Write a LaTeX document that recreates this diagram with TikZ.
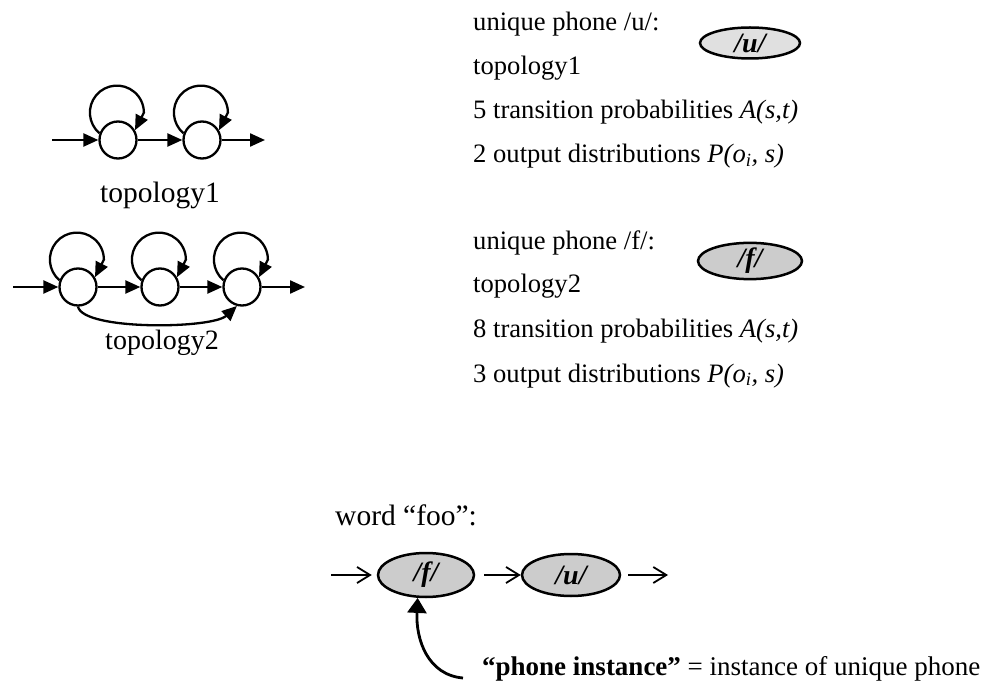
\documentclass[tikz,border=0pt]{standalone}
\usepackage{fontspec}
\setmainfont{Liberation Serif}
\usetikzlibrary{arrows.meta,shapes.geometric}
\begin{document}
\begin{tikzpicture}[x=1pt,y=1pt,
  state/.style={circle,draw,line width=2.3pt,minimum size=37pt,inner sep=0pt},
  arr/.style={line width=2.3pt,-{Triangle[length=15pt,width=13pt]}},
  thinarr/.style={line width=1.8pt,-{Straight Barb[length=13pt,width=16pt,line width=1.8pt]}},
  phone/.style={ellipse,draw,line width=2.5pt,inner sep=0pt,fill=black!20,
    font=\fontsize{28}{28}\selectfont\bfseries\itshape},
  txt/.style={anchor=base west,inner sep=0pt,font=\fontsize{26.6}{30}\selectfont},
  lbl/.style={anchor=base,inner sep=0pt},
]
\useasboundingbox (0,0) rectangle (985,697);

% ---- topology 1: two emitting states ----
\node[state] (c11) at (118,557) {};
\node[state] (c12) at (202,557) {};
\coordinate (t1in) at (52,557);
\coordinate (t1out) at (265,557);
\draw[arr] (t1in) -- (c11.west);
\draw[arr] (c11.east) -- (c12.west);
\draw[arr] (c12.east) -- (t1out);
\draw[arr] (c11.160) arc[start angle=230,end angle=0,radius=27] -- (c11.30);
\draw[arr] (c12.160) arc[start angle=230,end angle=0,radius=27] -- (c12.30);
\node[lbl,font=\fontsize{29.5}{30}\selectfont] (t1lab) at (160,494) {topology1};

% ---- topology 2: three states with a skip ----
\node[state] (c21) at (78,410) {};
\node[state] (c22) at (160,410) {};
\node[state] (c23) at (242,410) {};
\coordinate (t2in) at (13,410);
\coordinate (t2out) at (305,410);
\draw[arr] (t2in) -- (c21.west);
\draw[arr] (c21.east) -- (c22.west);
\draw[arr] (c22.east) -- (c23.west);
\draw[arr] (c23.east) -- (t2out);
\foreach \s in {c21,c22,c23}
  \draw[arr] (\s.160) arc[start angle=230,end angle=0,radius=27] -- (\s.30);
\draw[arr] (c21.south) .. controls +(5,-24) and +(-25,-23) .. (c23.255);
\node[lbl,font=\fontsize{28}{30}\selectfont] (t2lab) at (162,347) {topology2};

% ---- unique phone /u/ ----
\node[txt] (u1) at (473,666) {unique phone /u/:};
\node[txt] (u2) at (473,622) {topology1};
\node[txt] (u3) at (473,578) {5 transition probabilities \textit{A(s,t)}};
\node[txt] (u4) at (473,534) {2 output distributions \textit{P(o\textsubscript{i}, s)}};
\node[phone,fill=black!12,minimum width=100pt,minimum height=31pt] (pu) at (750,654) {/u/};

% ---- unique phone /f/ ----
\node[txt] (f1) at (473,447) {unique phone /f/:};
\node[txt] (f2) at (473,404) {topology2};
\node[txt] (f3) at (473,359) {8 transition probabilities \textit{A(s,t)}};
\node[txt] (f4) at (473,315) {3 output distributions \textit{P(o\textsubscript{i}, s)}};
\node[phone,minimum width=104pt,minimum height=35pt] (pf) at (750,436) {/f/};

% ---- word "foo" ----
\node[anchor=base west,inner sep=0pt,font=\fontsize{29.5}{30}\selectfont] (word) at (335,172) {word “foo”:};
\node[phone,minimum width=96pt,minimum height=44pt] (wf) at (426,122) {/f/};
\node[phone,minimum width=98pt,minimum height=42pt] (wu) at (571,122) {/u/};
\coordinate (win) at (331,122);
\coordinate (wout) at (668,122);
\draw[thinarr] (win) -- ([xshift=-5pt]wf.west);
\draw[thinarr] ([xshift=9pt]wf.east) -- (wu.west);
\draw[thinarr] ([xshift=7pt]wu.east) -- (wout);

% ---- phone instance annotation ----
\node[txt,font=\fontsize{27}{30}\selectfont] (inst) at (482,22)
  {\textbf{“phone instance”} = instance of unique phone};
\draw[line width=2.8pt,-{Triangle[length=15pt,width=19pt]}]
  ([xshift=-19pt,yshift=-3pt]inst.base west) .. controls +(-35,3) and +(-2,-42) .. (wf.250);
\end{tikzpicture}
\end{document}
